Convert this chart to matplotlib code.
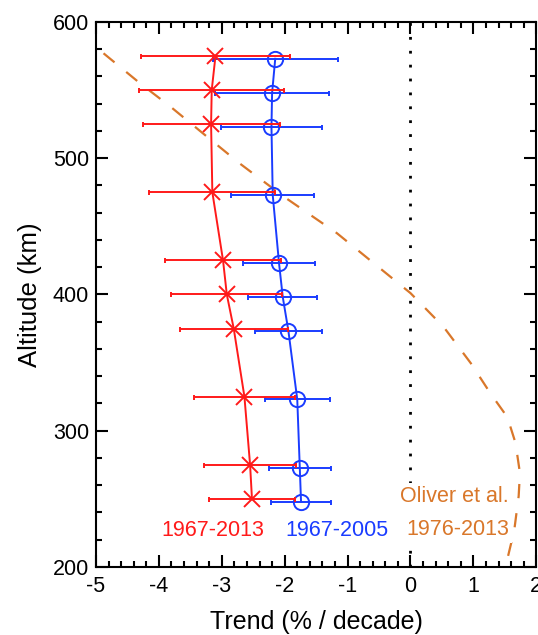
import matplotlib
matplotlib.use("Agg")
import matplotlib.pyplot as plt
from matplotlib.ticker import MultipleLocator

plt.rcParams['font.family'] = ['Liberation Sans', 'DejaVu Sans']
plt.rcParams['axes.unicode_minus'] = False

# Data
alt_red = [575, 550, 525, 475, 425, 400, 375, 325, 275, 250]
trend_red = [-3.10, -3.16, -3.17, -3.15, -2.98, -2.92, -2.81, -2.64, -2.55, -2.52]
err_red = [1.19, 1.15, 1.09, 1.00, 0.92, 0.88, 0.86, 0.80, 0.73, 0.68]

alt_blue = [573, 548, 523, 473, 423, 398, 373, 323, 273, 248]
trend_blue = [-2.15, -2.20, -2.21, -2.19, -2.09, -2.03, -1.94, -1.80, -1.76, -1.74]
err_blue = [0.99, 0.90, 0.80, 0.66, 0.58, 0.55, 0.53, 0.52, 0.49, 0.47]

oliver_trend = [-4.88, -4.30, -3.82, -3.24, -2.71, -2.02, -1.17, 0.00, 0.53, 0.96, 1.27, 1.54, 1.67, 1.74, 1.72, 1.65, 1.51]
oliver_alt = [577, 555, 538, 516, 496, 472, 445, 401, 376, 349.5, 327.5, 310, 291, 269, 252, 227, 200]

labels = ['1967-2013', '1967-2005', 'Oliver et al.\n1976-2013']

RED = '#ff1a1a'
BLUE = '#1a3cff'
ORANGE = '#d9772a'

fig = plt.figure(figsize=(5.38, 6.35), dpi=100)
ax = fig.add_axes([0.1784, 0.1071, 0.8184, 0.8583])

ax.axvline(0, color='black', linestyle=(0, (1, 4)), lw=2.0, zorder=1)

ax.plot(oliver_trend, oliver_alt, color=ORANGE, lw=1.6, dashes=(6.4, 6.8), zorder=2)

ax.errorbar(trend_blue, alt_blue, xerr=err_blue, color=BLUE, ecolor=BLUE, elinewidth=1.4,
            capsize=1.8, capthick=1.5, lw=1.4, marker='o', ms=11, mfc='none', mec=BLUE,
            mew=1.4, zorder=3)
ax.errorbar(trend_red, alt_red, xerr=err_red, color=RED, ecolor=RED, elinewidth=1.4,
            capsize=1.8, capthick=1.5, lw=1.4, marker='x', ms=12, mec=RED, mew=1.4, zorder=4)

ax.text(-3.14, 226.5, labels[0], color=RED, fontsize=15.5, ha='center', va='center', zorder=5)
ax.text(-1.17, 226.5, labels[1], color=BLUE, fontsize=15.5, ha='center', va='center', zorder=5)
ax.text(1.57, 239.5, labels[2], color=ORANGE, fontsize=15.5, ha='right', va='center',
        linespacing=1.75, zorder=5,
        bbox=dict(facecolor='white', edgecolor='none', pad=2))

ax.set_xlim(-5, 2)
ax.set_ylim(200, 600)
ax.xaxis.set_major_locator(MultipleLocator(1))
ax.xaxis.set_minor_locator(MultipleLocator(0.2))
ax.yaxis.set_major_locator(MultipleLocator(100))
ax.yaxis.set_minor_locator(MultipleLocator(20))
ax.tick_params(which='both', direction='in', top=True, right=True, width=1.5, labelsize=15.5)
ax.tick_params(which='major', length=8.5, pad=5)
ax.tick_params(axis='x', which='major', pad=6.5)
ax.tick_params(which='minor', length=4.5)
for s in ax.spines.values():
    s.set_linewidth(1.5)

ax.set_xlabel('Trend (% / decade)', fontsize=18, labelpad=9)
ax.set_ylabel('Altitude (km)', fontsize=18.5, labelpad=8)

fig.savefig('out.png', dpi=100)
